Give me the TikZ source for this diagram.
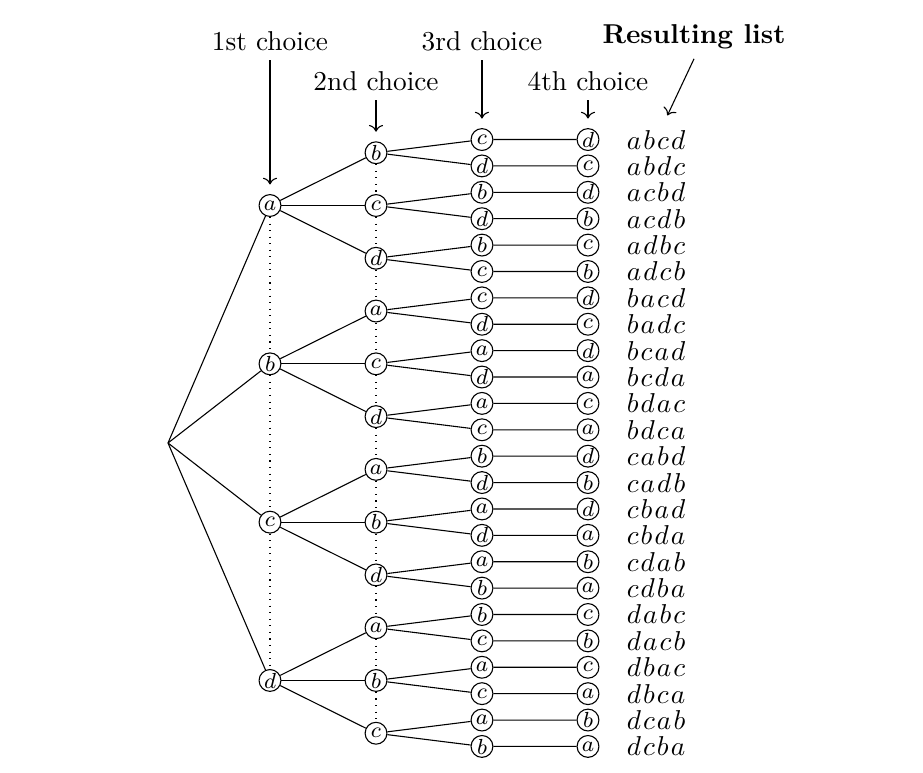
\documentclass[tikz,border=0pt]{standalone}
\usepackage{amsmath}
\usepackage{tikz}
\usetikzlibrary{arrows.meta,calc}
\tikzset{
  choice/.style={draw,circle,inner sep=0pt,minimum size=8pt,fill=white,font=\footnotesize},
  pointer/.style={->,shorten >=3.5pt}
}
\newcommand{\rowsep}{0.3397}

\begin{document}
\begin{tikzpicture}
    \useasboundingbox (-2.163,-4.236) rectangle (9.720,5.703);
    \coordinate (root) at (0,0);
    % first and second choice
    \foreach \p [count=\i] in {a,b,c,d} {
     \node[choice] (A\i) at (1.313,{(15-6*\i)*\rowsep}) {$\p$};
     \draw (root) -- (A\i);
    }
    \foreach \q [count=\j] in {b,c,d,a,c,d,a,b,d,a,b,c} {
     \pgfmathtruncatemacro{\up}{(\j+2)/3}
     \node[choice] (B\j) at (2.678,{(13-2*\j)*\rowsep}) {$\q$};
     \draw (A\up) -- (B\j);
    }
    % third and fourth choice, and the list
    \foreach \p/\q/\r/\s [count=\k] in {a/b/c/d,a/b/d/c,a/c/b/d,a/c/d/b,a/d/b/c,a/d/c/b,
      b/a/c/d,b/a/d/c,b/c/a/d,b/c/d/a,b/d/a/c,b/d/c/a,
      c/a/b/d,c/a/d/b,c/b/a/d,c/b/d/a,c/d/a/b,c/d/b/a,
      d/a/b/c,d/a/c/b,d/b/a/c,d/b/c/a,d/c/a/b,d/c/b/a} {
     \pgfmathtruncatemacro{\up}{(\k+1)/2}
     \node[choice] (C\k) at (4.042,{(12.5-\k)*\rowsep}) {$\r$};
     \node[choice] (D\k) at (5.407,{(12.5-\k)*\rowsep}) {$\s$};
     \node (L\k) at (6.283,{(12.5-\k)*\rowsep}) {$\p\mkern1.4mu\q\mkern1.4mu\r\mkern1.4mu\s$};
     \draw (B\up) -- (C\k) -- (D\k);
    }
    \foreach \i in {1,2,3} {
     \pgfmathtruncatemacro{\nx}{\i+1}
     \draw[dotted] (A\i) -- (A\nx);
    }
    \foreach \j in {1,...,11} {
     \pgfmathtruncatemacro{\nx}{\j+1}
     \draw[dotted] (B\j) -- (B\nx);
    }
    % headings
    \node (first) at (1.313,5.175) {1st choice};
    \node (second) at (2.678,4.660) {2nd choice};
    \node (third) at (4.042,5.175) {3rd choice};
    \node (fourth) at (5.407,4.660) {4th choice};
    \node[font=\bfseries] (res) at (6.772,5.227) {Resulting list};
    \draw[pointer] (first) -- (A1);
    \draw[pointer] (second) -- (B1);
    \draw[pointer] (third) -- (C1);
    \draw[pointer] (fourth) -- (D1);
    \draw[->,shorten >=2pt] (res.south) -- (L1);
\end{tikzpicture}
\end{document}
